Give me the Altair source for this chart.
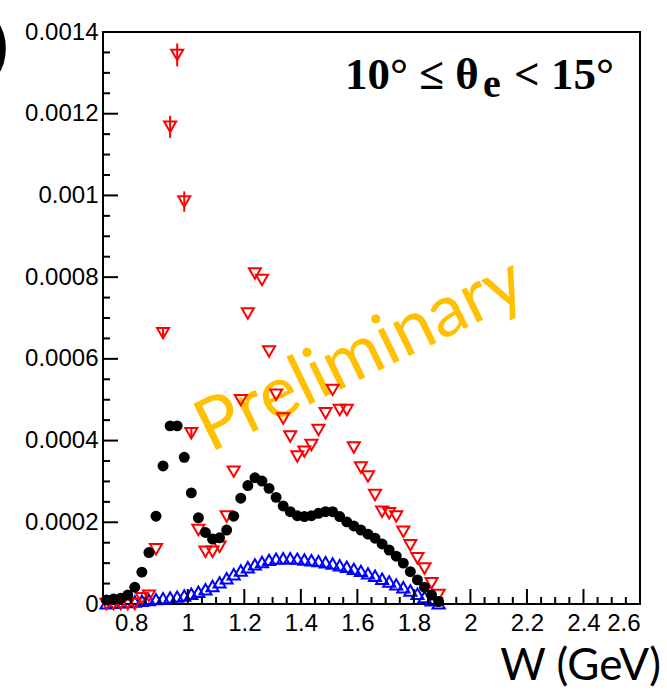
import altair as alt
import pandas as pd

# W bin centres (GeV), 0.025 GeV bins from 0.7 to 1.9
w_bins = [0.7125, 0.7375, 0.7625, 0.7875, 0.8125, 0.8375, 0.8625, 0.8875,
          0.9125, 0.9375, 0.9625, 0.9875, 1.0125, 1.0375, 1.0625, 1.0875,
          1.1125, 1.1375, 1.1625, 1.1875, 1.2125, 1.2375, 1.2625, 1.2875,
          1.3125, 1.3375, 1.3625, 1.3875, 1.4125, 1.4375, 1.4625, 1.4875,
          1.5125, 1.5375, 1.5625, 1.5875, 1.6125, 1.6375, 1.6625, 1.6875,
          1.7125, 1.7375, 1.7625, 1.7875, 1.8125, 1.8375, 1.8625, 1.8875]

# black filled circles
black_vals = [1.0e-5, 1.2e-5, 1.4e-5, 2.2e-5, 4.1e-5, 7.8e-5, 1.26e-4, 2.15e-4,
              3.38e-4, 4.36e-4, 4.36e-4, 3.59e-4, 2.72e-4, 2.11e-4, 1.75e-4, 1.59e-4,
              1.62e-4, 1.81e-4, 2.15e-4, 2.59e-4, 2.90e-4, 3.09e-4, 3.01e-4, 2.83e-4,
              2.61e-4, 2.40e-4, 2.26e-4, 2.16e-4, 2.14e-4, 2.16e-4, 2.22e-4, 2.26e-4,
              2.26e-4, 2.14e-4, 2.01e-4, 1.91e-4, 1.81e-4, 1.71e-4, 1.61e-4, 1.47e-4,
              1.32e-4, 1.17e-4, 1.00e-4, 7.9e-5, 5.9e-5, 4.1e-5, 2.2e-5, 6.0e-6]

# red open down-triangles and their errors
red_vals = [0.0, 0.0, 0.0, 0.0, 0.0, 1.4e-5, 2.0e-5, 1.34e-4,
            6.63e-4, 1.168e-3, 1.344e-3, 9.85e-4, 4.18e-4, 1.81e-4, 1.28e-4, 1.28e-4,
            1.40e-4, 2.14e-4, 3.24e-4, 4.99e-4, 7.11e-4, 8.09e-4, 7.93e-4, 6.18e-4,
            5.12e-4, 4.54e-4, 4.10e-4, 3.61e-4, 3.73e-4, 3.89e-4, 4.26e-4, 4.67e-4,
            5.24e-4, 4.75e-4, 4.75e-4, 3.83e-4, 3.34e-4, 3.12e-4, 2.67e-4, 2.26e-4,
            2.22e-4, 2.14e-4, 1.77e-4, 1.44e-4, 1.12e-4, 8.7e-5, 5.1e-5, 2.2e-5]
red_errs = [0.0, 0.0, 0.0, 0.0, 0.0, 0.0, 0.0, 0.0,
            1.2e-5, 2.7e-5, 2.8e-5, 2.5e-5, 1.0e-5, 0.0, 0.0, 0.0,
            0.0, 0.0, 0.0, 0.0, 0.0, 0.0, 0.0, 0.0,
            0.0, 0.0, 0.0, 0.0, 0.0, 0.0, 0.0, 0.0,
            0.0, 0.0, 0.0, 0.0, 0.0, 0.0, 0.0, 0.0,
            0.0, 0.0, 0.0, 0.0, 0.0, 0.0, 0.0, 0.0]

# blue open up-triangles
blue_vals = [2e-6, 3e-6, 4e-6, 5e-6, 6e-6, 8e-6, 1.0e-5, 1.2e-5,
             1.4e-5, 1.6e-5, 1.8e-5, 2.1e-5, 2.5e-5, 3.0e-5, 3.6e-5, 4.4e-5,
             5.3e-5, 6.3e-5, 7.3e-5, 8.2e-5, 9.0e-5, 9.7e-5, 1.03e-4, 1.08e-4,
             1.11e-4, 1.12e-4, 1.12e-4, 1.11e-4, 1.09e-4, 1.07e-4, 1.05e-4, 1.02e-4,
             9.9e-5, 9.5e-5, 9.1e-5, 8.6e-5, 8.1e-5, 7.5e-5, 6.9e-5, 6.2e-5,
             5.5e-5, 4.8e-5, 4.1e-5, 3.3e-5, 2.5e-5, 1.7e-5, 9e-6, 2e-6]

x_labels = [0.8, 1.0, 1.2, 1.4, 1.6, 1.8, 2.0, 2.2, 2.4, 2.6]
y_labels = [0, 0.0002, 0.0004, 0.0006, 0.0008, 0.001, 0.0012, 0.0014]
x_minor = [round(0.7 + 0.05 * i, 2) for i in range(1, 38)]
y_minor = [round(0.00005 * i, 6) for i in range(1, 28)]

W, H = 537, 572
FONT = "Liberation Sans"

xs = alt.Scale(domain=[0.7, 2.6], nice=False, zero=False)
ys = alt.Scale(domain=[0, 0.0014], nice=False, zero=False)
x_axis = alt.Axis(values=x_labels, format="~g", ticks=False, domain=False, grid=False,
                  labelFont=FONT, labelFontSize=24, labelPadding=7, labelColor="black",
                  title=None)
y_axis = alt.Axis(values=y_labels, format="~g", ticks=False, domain=False, grid=False,
                  labelFont=FONT, labelFontSize=24, labelPadding=5, labelColor="black",
                  title=None)

df = pd.DataFrame({"w": w_bins, "black": black_vals, "red": red_vals,
                   "red_lo": [v - e for v, e in zip(red_vals, red_errs)],
                   "red_hi": [v + e for v, e in zip(red_vals, red_errs)],
                   "blue": blue_vals})
base = alt.Chart(df)

X = alt.X("w:Q", scale=xs, axis=x_axis)

prelim = alt.Chart(pd.DataFrame({"t": ["Preliminary"]})).mark_text(
    font="Lato", fontSize=72, color="#FFC000", angle=334, align="center",
    baseline="alphabetic"
).encode(x=alt.value(370 - 103), y=alt.value(375 - 32), text="t:N")

blue = base.mark_point(shape="triangle-up", filled=False, color="#0000FF",
                       strokeWidth=2, size=145, opacity=1).encode(
    x=X, y=alt.Y("blue:Q", scale=ys, axis=y_axis))

red_err = base.transform_filter("datum.red_hi > datum.red_lo").mark_rule(
    color="#FF0000", strokeWidth=2).encode(
    x=X, y=alt.Y("red_lo:Q", scale=ys, axis=y_axis), y2="red_hi:Q")

red = base.mark_point(shape="triangle-down", filled=False, color="#FF0000",
                      strokeWidth=2, size=145, opacity=1).encode(
    x=X, y=alt.Y("red:Q", scale=ys, axis=y_axis))

black = base.mark_circle(color="black", size=120, opacity=1).encode(
    x=X, y=alt.Y("black:Q", scale=ys, axis=y_axis))

# inward ticks along the bottom and left edges
x_major = alt.Chart(pd.DataFrame({"w": x_labels[:-1]})).mark_rule(
    color="black", strokeWidth=2).encode(x=X, y=alt.value(H), y2=alt.value(H - 15))
x_min = alt.Chart(pd.DataFrame({"w": [v for v in x_minor if v not in x_labels]})).mark_rule(
    color="black", strokeWidth=2).encode(x=X, y=alt.value(H), y2=alt.value(H - 7))
y_major = alt.Chart(pd.DataFrame({"v": y_labels[1:-1]})).mark_rule(
    color="black", strokeWidth=2).encode(
    y=alt.Y("v:Q", scale=ys, axis=y_axis), x=alt.value(0), x2=alt.value(15))
y_min = alt.Chart(pd.DataFrame({"v": [v for v in y_minor
                                      if all(abs(v - m) > 1e-9 for m in y_labels)]})).mark_rule(
    color="black", strokeWidth=2).encode(
    y=alt.Y("v:Q", scale=ys, axis=y_axis), x=alt.value(0), x2=alt.value(7))

# angular bin label: 10° ≤ θ_e < 15°
lab_main = alt.Chart(pd.DataFrame({"t": ["10° ≤ θ"]})).mark_text(
    font="Liberation Serif", fontWeight="bold", fontSize=45, align="left",
    baseline="alphabetic", color="black"
).encode(x=alt.value(345 - 103), y=alt.value(89 - 32), text="t:N")
lab_sub = alt.Chart(pd.DataFrame({"t": ["e"]})).mark_text(
    font="Liberation Serif", fontWeight="bold", fontSize=40, align="left",
    baseline="alphabetic", color="black"
).encode(x=alt.value(483 - 103), y=alt.value(97 - 32), text="t:N")
lab_end = alt.Chart(pd.DataFrame({"t": ["< 15°"]})).mark_text(
    font="Liberation Serif", fontWeight="bold", fontSize=45, align="right",
    baseline="alphabetic", color="black"
).encode(x=alt.value(614 - 103), y=alt.value(89 - 32), text="t:N")

x_title = alt.Chart(pd.DataFrame({"t": ["W (GeV)"]})).mark_text(
    font="Lato", fontSize=44, align="right", baseline="alphabetic", color="black"
).encode(x=alt.value(661 - 103), y=alt.value(680 - 32), text="t:N")

paren = alt.Chart(pd.DataFrame({"t": [")"]})).mark_text(
    font="Liberation Sans", fontWeight="bold", fontSize=62, align="right",
    baseline="alphabetic", color="black"
).encode(x=alt.value(9 - 103), y=alt.value(64 - 32), text="t:N")

chart = alt.layer(
    prelim, blue, red_err, red, black, x_major, x_min, y_major, y_min,
    lab_main, lab_sub, lab_end, x_title, paren
).properties(
    width=W, height=H,
    autosize=alt.AutoSizeParams(type="none"),
    padding={"left": 103, "top": 32, "right": 27, "bottom": 87},
    background="white",
).configure_view(stroke="black", strokeWidth=2)

chart.save("out.html", embed_options={"renderer": "svg", "actions": False})
